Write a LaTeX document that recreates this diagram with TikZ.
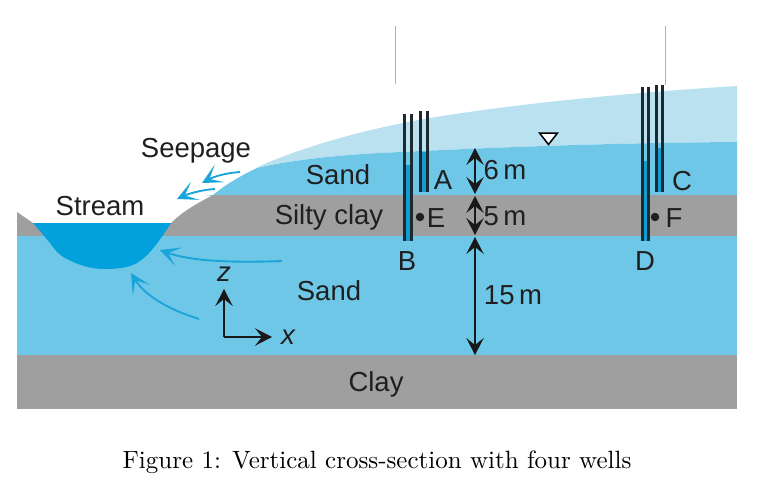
\documentclass[tikz,border=0pt]{standalone}
\usepackage{fontspec}
\setsansfont{Liberation Sans}
\usetikzlibrary{arrows.meta}
\usetikzlibrary{calc}
\definecolor{lightsand}{HTML}{B9E1EF}
\definecolor{sandblue}{HTML}{6FC7E8}
\definecolor{claygray}{HTML}{A09FA0}
\definecolor{streamblue}{HTML}{02A1DB}
\definecolor{wellblue}{HTML}{129CD0}
\definecolor{wellline}{HTML}{1B2A30}
\definecolor{flowblue}{HTML}{19A5DA}
\begin{document}
\begin{tikzpicture}[x=0.4pt,y=-0.4pt,
  namenode/.style={font=\sffamily\fontsize{11}{13}\selectfont,text=black!88,inner sep=0pt},
  tubeline/.style={draw=wellline,line width=0.85pt},
  dimline/.style={draw=black!90,line width=0.5pt,{Stealth[length=6.8pt,width=7pt,inset=2.8pt]}-{Stealth[length=6.8pt,width=7pt,inset=2.8pt]}},
  axisline/.style={draw=black!90,line width=0.55pt,-{Stealth[length=6.8pt,width=7pt,inset=2.8pt]}},
  flowline/.style={draw=flowblue,line width=0.75pt,-{Stealth[length=8pt,width=8pt,inset=4.6pt]}}]

\useasboundingbox (0,0) rectangle (758,493);

% Set layer depths
\def\xl{17}
\def\xr{737}
\def\ytop{195} %<- Top of silty clay
\def\ymid{236} %<- Bottom of silty clay
\def\ybase{355} %<- Top of clay
\def\yend{409}

% Top sand, above water table
\fill[lightsand] (255,168) .. controls (300,148) and (360,130) .. (430,118) .. controls (520,103) and (640,92) .. (\xr,86)
  -- (\xr,142) .. controls (600,143) and (480,148) .. (380,153) .. controls (340,155) and (290,160) .. (255,168) -- cycle;

% Top sand, below water table
\fill[sandblue] (205,\ytop+1) -- (213,\ytop) .. controls (225,185) and (240,176) .. (257,168)
  .. controls (290,160) and (340,155) .. (380,153) .. controls (480,148) and (600,143) .. (\xr,142)
  -- (\xr,\ytop+1) -- cycle;

% Silty clay
\fill[claygray] (171,223) .. controls (182,212) and (196,204) .. (213,\ytop) -- (\xr,\ytop) -- (\xr,\ymid) -- (140,\ymid) -- cycle;
\fill[claygray] (\xl,212) -- (33,223) -- (60,\ymid) -- (\xl,\ymid) -- cycle;

% Lower sand and clay
\fill[sandblue] (\xl,\ymid) rectangle (\xr,\ybase);
\fill[claygray] (\xl,\ybase) rectangle (\xr,\yend);

% Stream
\fill[streamblue] (33,223) -- (50,243) .. controls (55,250) and (58,254) .. (65,258)
  .. controls (78,265) and (90,269) .. (105,269) .. controls (120,269) and (130,267) .. (137,263)
  .. controls (150,255) and (160,240) .. (171,223) -- cycle;

% Top markers
\coordinate (MarkerLeftTop) at (395,26);
\coordinate (MarkerLeftEnd) at (395,84);
\coordinate (MarkerRightTop) at (665.5,26);
\coordinate (MarkerRightEnd) at (665.5,85);
\draw[black!30,line width=0.35pt] (MarkerLeftTop) -- (MarkerLeftEnd);
\draw[black!30,line width=0.35pt] (MarkerRightTop) -- (MarkerRightEnd);

% Well A
\fill[wellblue] (420.5,152) rectangle (427.5,192);
\draw[tubeline] (420.5,111) -- (420.5,192);
\draw[tubeline] (427.5,111) -- (427.5,192);
\node[namenode] (LabelA) at (443,180) {A};

% Well B
\fill[wellblue] (404.5,165) rectangle (411.5,241);
\draw[tubeline] (404.5,114) -- (404.5,241);
\draw[tubeline] (411.5,114) -- (411.5,241);
\node[namenode] (LabelB) at (407,261) {B};

% Well C
\fill[wellblue] (656.5,148) rectangle (662.5,192);
\draw[tubeline] (656.5,85) -- (656.5,192);
\draw[tubeline] (662.5,85) -- (662.5,192);
\node[namenode] (LabelC) at (682,181) {C};

% Well D
\fill[wellblue] (642.5,161) rectangle (648.5,241);
\draw[tubeline] (642.5,87) -- (642.5,241);
\draw[tubeline] (648.5,87) -- (648.5,241);
\node[namenode] (LabelD) at (645,261) {D};

% Points E and F
\node[circle,fill=black!88,minimum size=3.4pt,inner sep=0pt] (DotE) at (420,217) {};
\node[namenode] (LabelE) at (436,218) {E};
\node[circle,fill=black!88,minimum size=3.4pt,inner sep=0pt] (DotF) at (655,217) {};
\node[namenode] (LabelF) at (674,218) {F};

% Water table
\draw[black,line width=0.6pt,fill=white] (539.5,133) -- (557.5,133) -- (548.5,144.5) -- cycle;

% Thicknesses
\coordinate (SixTop) at (475,148);
\coordinate (SixEnd) at (475,194);
\coordinate (FiveTop) at (475,196);
\coordinate (FiveEnd) at (475,235);
\coordinate (FifteenTop) at (475,237);
\coordinate (FifteenEnd) at (475,355);
\draw[dimline] (SixTop) -- (SixEnd);
\draw[dimline] (FiveTop) -- (FiveEnd);
\draw[dimline] (FifteenTop) -- (FifteenEnd);
\node[namenode] (SixLabel) at (505,170) {6\,m};
\node[namenode] (FiveLabel) at (505,216) {5\,m};
\node[namenode] (FifteenLabel) at (513,295) {15\,m};

% Flow arrows
\coordinate (SeepOneStart) at (240,172);
\coordinate (SeepOneEnd) at (202,183);
\coordinate (SeepTwoStart) at (215,189);
\coordinate (SeepTwoEnd) at (177,199);
\coordinate (FlowOneStart) at (282,261);
\coordinate (FlowOneEnd) at (160,250);
\coordinate (FlowTwoStart) at (199,319);
\coordinate (FlowTwoEnd) at (131,273);
\draw[flowline] (SeepOneStart) .. controls (225,173) and (213,177) .. (SeepOneEnd);
\draw[flowline] (SeepTwoStart) .. controls (200,190) and (188,194) .. (SeepTwoEnd);
\draw[flowline] (FlowOneStart) .. controls (230,263) and (190,261) .. (FlowOneEnd);
\draw[flowline] (FlowTwoStart) .. controls (170,310) and (145,296) .. (FlowTwoEnd);

% Axes
\coordinate (AxisOrigin) at (224,337);
\coordinate (AxisZ) at (224,289);
\coordinate (AxisX) at (272,337);
\draw[axisline] (AxisOrigin) -- (AxisZ);
\draw[axisline] (AxisOrigin) -- (AxisX);
\node[namenode,font=\sffamily\itshape\fontsize{11}{13}\selectfont] (NameZ) at (224,274) {z};
\node[namenode,font=\sffamily\itshape\fontsize{11}{13}\selectfont] (NameX) at (288,337) {x};

% Names
\node[namenode] (NameSeepage) at (196,151) {Seepage};
\node[namenode] (NameStream) at (100,206) {Stream};
\node[namenode] (NameSandTop) at (338,175) {Sand};
\node[namenode] (NameSilty) at (329,217) {Silty clay};
\node[namenode] (NameSandLow) at (329,291) {Sand};
\node[namenode] (NameClay) at (376,384) {Clay};

% Caption
\node[inner sep=0pt] (FigCaption) at (377,462) {Figure 1: Vertical cross-section with four wells};

\end{tikzpicture}
\end{document}
